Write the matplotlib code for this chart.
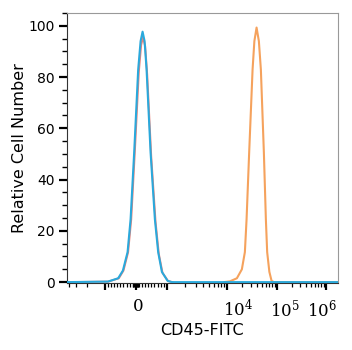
import numpy as np
import matplotlib
matplotlib.use('Agg')
import matplotlib.pyplot as plt
import matplotlib.transforms as mtransforms
from matplotlib.ticker import FixedLocator, FixedFormatter

plt.rcParams['mathtext.fontset'] = 'dejavuserif'

# Histogram traces (x in fluorescence units, y in % of max)
blue_x = [-4300, -903, -571, -419, -268, -171, -55, 74, 152, 216, 281, 345, 474, 613, 719, 839, 1027, 1212, 1.76e6]
blue_y = [0, 0.2, 1.5, 4.5, 11.7, 24.5, 50.6, 82.9, 94, 97.7, 94, 82.9, 50.6, 24.5, 11.7, 4, 0.5, 0, 0]

red_x = [-4300, -890, -550, -400, -250, -150, -35, 95, 170, 230, 300, 365, 495, 635, 740, 860, 1050, 1240]
red_y = [0, 0.2, 1.5, 4.5, 11.7, 24.5, 50.6, 82.0, 92.5, 95.5, 92, 81, 49, 23.5, 11, 3.6, 0.4, 0]

orange_x = [9000, 11480, 15850, 19950, 22910, 24770, 27930, 32660, 35480, 39260,
            43650, 47860, 54950, 60260, 63970, 70790, 78340, 87100, 1.76e6]
orange_y = [0, 0.3, 1.5, 5, 11.7, 24.5, 50.6, 82.9, 94, 99.3,
            94, 82.9, 50.6, 24.5, 11.7, 4, 0.5, 0, 0]

x_tick_vals = [-1000, 0, 1000, 1e4, 1e5, 1e6]
x_tick_labels = ['', '0', '', '$10^4$', '$10^5$', '$10^6$']
x_label_shift = [0, 2, 0, 8, 6, -3]  # points, labels sit a bit off their ticks

# biexponential-like display: linear within +-1000, log decades outside
dec_pos = [0, 1.935, 3.548, 5.129, 6.71]
dec_idx = [0, 1, 2, 3, 4]


def forward(x):
    x = np.asarray(x, dtype=float)
    a = np.abs(x)
    lg = np.log10(np.maximum(a, 1000.0)) - 3
    out = np.where(a <= 1000, a / 1000.0, 1 + np.interp(lg, dec_idx, dec_pos))
    return np.sign(x) * out


def inverse(u):
    u = np.asarray(u, dtype=float)
    a = np.abs(u)
    lg = np.interp(np.maximum(a - 1, 0), dec_pos, dec_idx)
    out = np.where(a <= 1, a * 1000.0, 10 ** (lg + 3))
    return np.sign(u) * out


fig = plt.figure(figsize=(3.52, 3.5), dpi=100)
ax = fig.add_axes([0.190, 0.191, 0.770, 0.772])

ax.plot(orange_x, orange_y, color='#f5a25d', lw=1.5, zorder=2)
ax.plot(red_x, red_y, color='#e8837a', lw=1.4, zorder=2)
ax.plot(blue_x, blue_y, color='#2aa9dc', lw=1.5, zorder=3)

ax.set_xscale('function', functions=(forward, inverse))
ax.set_xlim(-4300, 1.76e6)
ax.set_ylim(-0.4, 105)

minor_x = [-4000, -3000, -2000] + list(range(-900, 1000, 100)) + list(range(-80, 100, 20))
minor_x += list(range(2000, 10000, 1000)) + list(range(20000, 100000, 10000))
minor_x += list(range(200000, 1000000, 100000))
ax.xaxis.set_major_locator(FixedLocator(x_tick_vals))
ax.xaxis.set_major_formatter(FixedFormatter(x_tick_labels))
ax.xaxis.set_minor_locator(FixedLocator(minor_x))

ax.set_yticks(range(0, 101, 20))
ax.set_yticks(range(0, 106, 5), minor=True)

ax.tick_params(axis='y', which='major', length=6, width=1.6, labelsize=10, pad=3)
ax.tick_params(axis='y', which='minor', length=3.5, width=1.0)
ax.tick_params(axis='x', which='major', length=5, width=1.6, labelsize=12, pad=6)
ax.tick_params(axis='x', which='minor', length=3, width=0.9)
for lab, dx in zip(ax.get_xticklabels(), x_label_shift):
    lab.set_family('DejaVu Serif')
    lab.set_transform(lab.get_transform() +
                      mtransforms.ScaledTranslation(dx / 72, 0, fig.dpi_scale_trans))

for side in ['top', 'right']:
    ax.spines[side].set_color('#999999')
    ax.spines[side].set_linewidth(0.8)
ax.spines['left'].set_color('#333333')
ax.spines['bottom'].set_color('#333333')
ax.spines['left'].set_linewidth(0.8)
ax.spines['bottom'].set_linewidth(0.8)

ax.set_ylabel('Relative Cell Number', fontsize=11.5, labelpad=1)
ax.set_xlabel('CD45-FITC', fontsize=11.5, labelpad=2)

fig.savefig('out.png', dpi=100)
